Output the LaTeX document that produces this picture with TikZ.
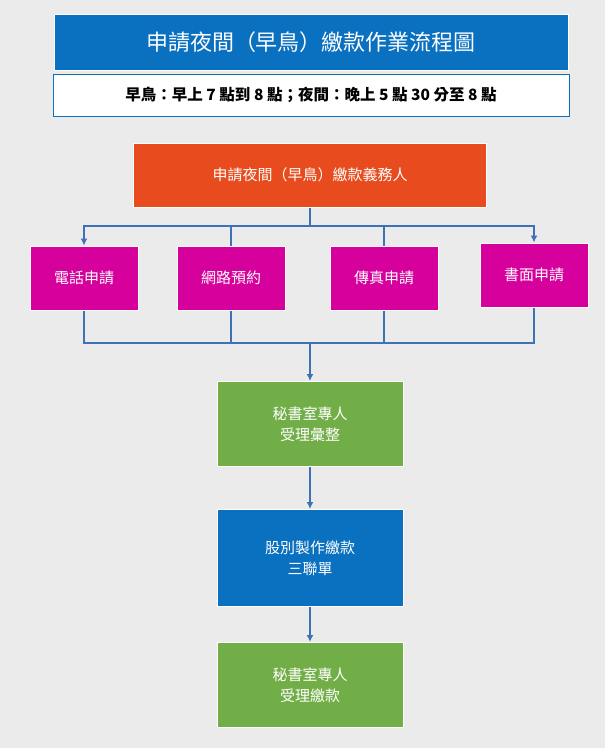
\documentclass[tikz,border=0pt]{standalone}
\usepackage{fontspec}
\newfontfamily\cjk{Noto Sans CJK TC}
\usetikzlibrary{arrows.meta,positioning}
\definecolor{bgc}{HTML}{EBEBEB}
\definecolor{titleblue}{HTML}{0A70C0}
\definecolor{orangec}{HTML}{E84C1E}
\definecolor{magc}{HTML}{D6009C}
\definecolor{greenc}{HTML}{72AE48}
\definecolor{linec}{HTML}{3E72B8}
\tikzset{
  box/.style={draw=white, line width=1pt, text=white, align=center, inner sep=0pt, font=\cjk\fontsize{15}{21}\selectfont},
  link/.style={linec, line width=1.8pt},
  arr/.style={link, -{Latex[length=7pt,width=7pt]}}
}
\begin{document}
\begin{tikzpicture}[x=1pt,y=-1pt]
          \fill [bgc] (0,0) rectangle (605,748); % background

          \node [box, fill=titleblue, minimum width=514, minimum height=56, font=\cjk\fontsize{22}{26}\selectfont] (title) at (311,42) {申請夜間（早鳥）繳款作業流程圖};
          \node [box, draw=titleblue, fill=white, text=black, minimum width=516, minimum height=42, font=\cjk\bfseries\fontsize{15.5}{18}\selectfont] (hours) at (311,95) {早鳥：早上 7 點到 8 點；夜間：晚上 5 點 30 分至 8 點};

          \node [box, fill=orangec, minimum width=353, minimum height=64] (payer) at (310,175) {申請夜間（早鳥）繳款義務人};

          \node [box, fill=magc, minimum width=108, minimum height=64] (phone) at (84,278) {電話申請};
          \node [box, fill=magc, minimum width=108, minimum height=64] (web) at (231,278) {網路預約};
          \node [box, fill=magc, minimum width=108, minimum height=64] (fax) at (384,278) {傳真申請};
          \node [box, fill=magc, minimum width=108, minimum height=64] (paper) at (534,275) {書面申請};

          \node [box, fill=greenc, minimum width=186, minimum height=85] (collect) at (310,424) {秘書室專人\\受理彙整};
          \node [box, fill=titleblue, minimum width=186, minimum height=97] (form) at (310,558) {股別製作繳款\\三聯單};
          \node [box, fill=greenc, minimum width=186, minimum height=85] (receive) at (310,685) {秘書室專人\\受理繳款};

          \coordinate (split) at (310,226);
          \coordinate (join) at (310,343);

          \draw [link] (payer.south) -- (split);
          \draw [arr] (split) -| (phone.north);
          \draw [arr] (split) -| (paper.north);
          \draw [link] (web.north) |- (split);
          \draw [link] (fax.north) |- (split);

          \draw [link] (phone.south) |- (join);
          \draw [link] (paper.south) |- (join);
          \draw [link] (web.south) |- (join);
          \draw [link] (fax.south) |- (join);
          \draw [arr] (join) -- (collect.north);

          \draw [arr] (collect) -- (form);
          \draw [arr] (form) -- (receive);
\end{tikzpicture}
\end{document}
